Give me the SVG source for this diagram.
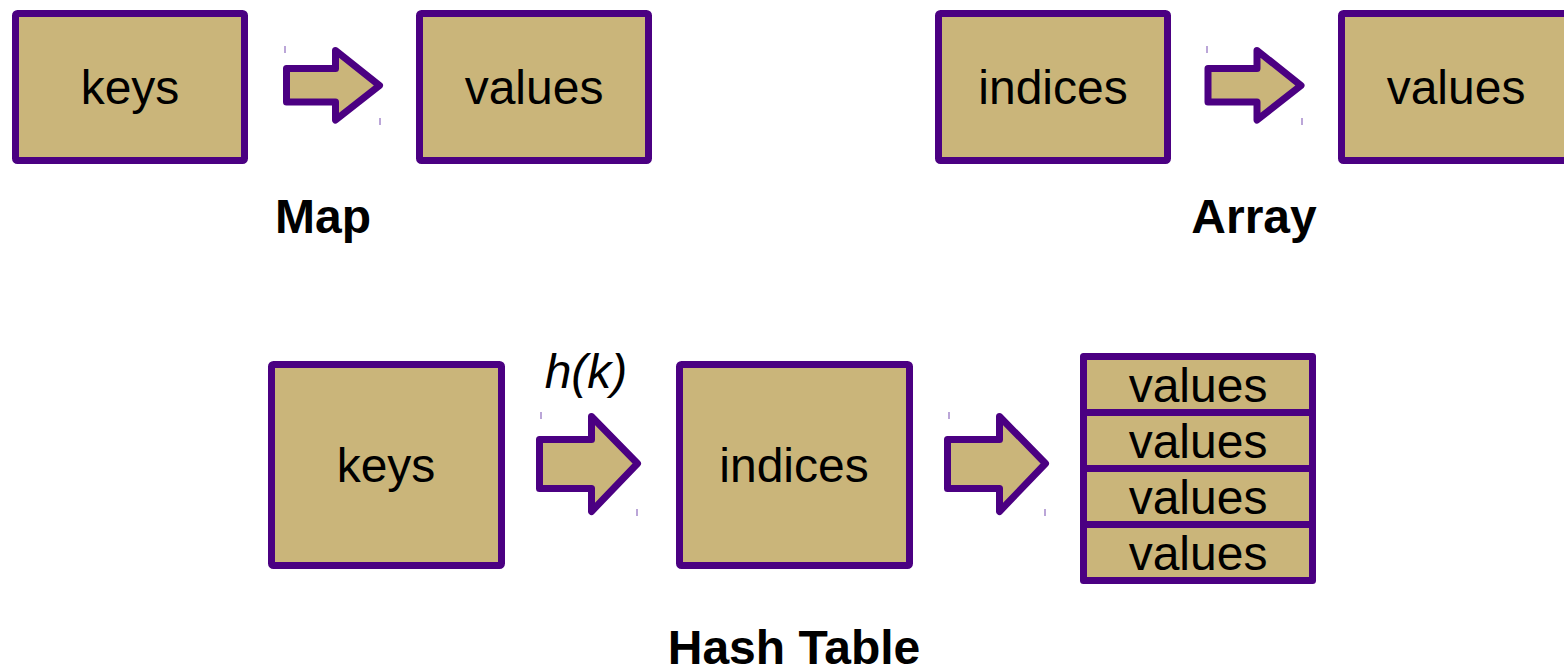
<svg xmlns="http://www.w3.org/2000/svg" width="1564" height="670" viewBox="0 0 1564 670">
<style>
.box{fill:#CAB57A;stroke:#4B0082;stroke-width:7;stroke-linejoin:round}
.arr{fill:#CAB57A;stroke:#4B0082;stroke-width:7;stroke-linejoin:round}
.tick{stroke:#8E6BBE;stroke-width:1.2}
.t{font-family:"Liberation Sans",Arial,sans-serif;font-size:48px;fill:#000;text-anchor:middle}
.b{font-family:"Liberation Sans",Arial,sans-serif;font-size:48px;font-weight:bold;fill:#000;text-anchor:middle}
.i{font-family:"Liberation Sans",Arial,sans-serif;font-size:48px;font-style:italic;fill:#000;text-anchor:middle}
</style>
<rect width="1564" height="670" fill="#fff"/>
<g id="map-keys"><rect class="box" x="15.5" y="13.5" width="229" height="147" rx="2"/><text class="t" x="130" y="104">keys</text></g>
<g id="map-values"><rect class="box" x="419.5" y="13.5" width="229" height="147" rx="2"/><text class="t" x="534" y="104">values</text></g>
<g id="map-label"><text class="b" x="323" y="233">Map</text></g>
<g id="array-indices"><rect class="box" x="938.5" y="13.5" width="229" height="147" rx="2"/><text class="t" x="1053" y="104">indices</text></g>
<g id="array-values"><rect class="box" x="1341.5" y="13.5" width="229" height="147" rx="2"/><text class="t" x="1456" y="104">values</text></g>
<g id="array-label"><text class="b" x="1254" y="233">Array</text></g>
<g id="ht-keys"><rect class="box" x="271.5" y="364.5" width="230" height="201" rx="2"/><text class="t" x="386" y="482">keys</text></g>
<g id="ht-indices"><rect class="box" x="679.5" y="364.5" width="230" height="201" rx="2"/><text class="t" x="794" y="482">indices</text></g>
<g id="ht-values">
<rect class="box" x="1083.5" y="356.5" width="229" height="224" rx="2"/>
<rect class="box" x="1083.5" y="356.5" width="229" height="56"/>
<rect class="box" x="1083.5" y="412.5" width="229" height="56"/>
<rect class="box" x="1083.5" y="468.5" width="229" height="56"/>
<rect class="box" x="1083.5" y="524.5" width="229" height="56"/>
<text class="t" x="1198" y="402">values</text>
<text class="t" x="1198" y="458">values</text>
<text class="t" x="1198" y="514">values</text>
<text class="t" x="1198" y="570">values</text>
</g>
<g id="ht-label"><text class="b" x="794" y="664">Hash Table</text></g>
<g id="hk-label"><text class="i" x="586" y="388">h(k)</text></g>
<g id="connectors">
<path class="arr" d="M286.5,68.5 H335.5 V50.5 L379.5,85.5 L335.5,120 V102 H286.5 Z"/>
<path class="arr" d="M1208,68.5 H1257 V50.5 L1301,85.5 L1257,120 V102 H1208 Z"/>
<path class="arr" d="M539.5,439.5 H591.5 V416.5 L637.5,463.5 L591.5,511.5 V488.5 H539.5 Z"/>
<path class="arr" d="M947.5,439.5 H999.5 V416.5 L1045.5,463.5 L999.5,511.5 V488.5 H947.5 Z"/>
<line class="tick" x1="285" y1="46" x2="285" y2="53"/>
<line class="tick" x1="380" y1="118" x2="380" y2="125"/>
<line class="tick" x1="1207" y1="46" x2="1207" y2="53"/>
<line class="tick" x1="1302" y1="118" x2="1302" y2="125"/>
<line class="tick" x1="541" y1="412" x2="541" y2="419"/>
<line class="tick" x1="637" y1="509" x2="637" y2="516"/>
<line class="tick" x1="949" y1="412" x2="949" y2="419"/>
<line class="tick" x1="1045" y1="509" x2="1045" y2="516"/>
</g>
</svg>
